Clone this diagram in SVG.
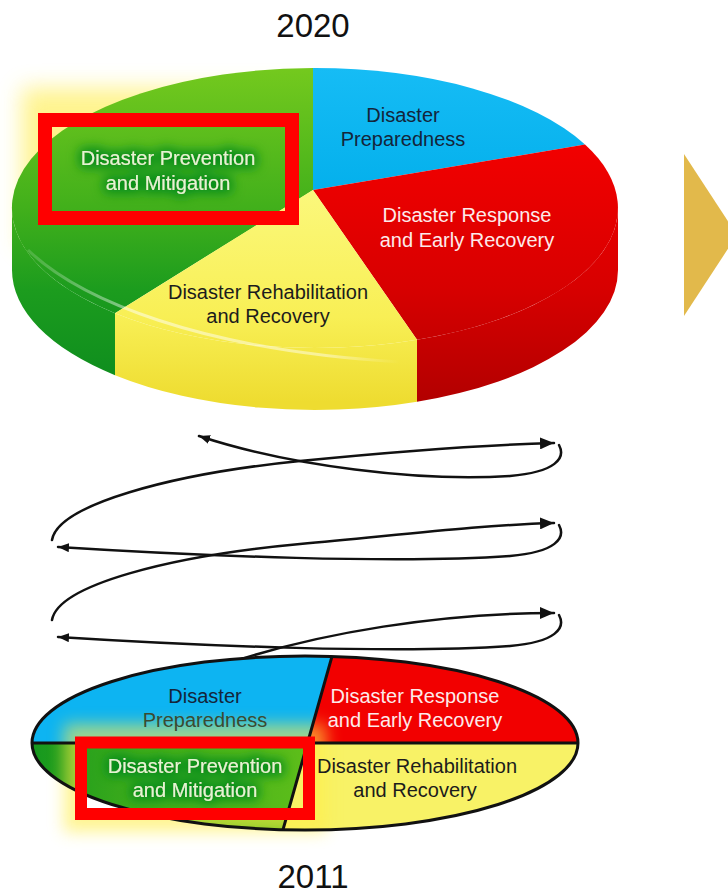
<svg xmlns="http://www.w3.org/2000/svg" width="728" height="894" viewBox="0 0 728 894">
  <style>
    text { font-family: "Liberation Sans", Arial, sans-serif; font-size: 20px; text-anchor: middle; }
    .year { font-size: 33px; fill: #111; }
    .dark { fill: #14253a; }
    .ink { fill: #1c1c1c; }
    .light { fill: #fdeaea; }
    .pale { fill: #e4f5d2; }
    .olive { fill: #3b4a30; }
    .spiral { fill: none; stroke: #111; stroke-width: 2.5; stroke-linecap: round; }
    .focus { fill: none; stroke: #ff0000; }
    .rim { fill: none; stroke: #111; stroke-width: 3; }
  </style>
  <defs>
    <!-- 3D pie fills -->
    <linearGradient id="gGreen" gradientUnits="userSpaceOnUse" x1="0" y1="68" x2="0" y2="376">
      <stop offset="0" stop-color="#74c91e"/>
      <stop offset="0.45" stop-color="#42b01b"/>
      <stop offset="0.72" stop-color="#1c9c1e"/>
      <stop offset="1" stop-color="#0f8e1e"/>
    </linearGradient>
    <linearGradient id="gBlue" gradientUnits="userSpaceOnUse" x1="0" y1="68" x2="0" y2="190">
      <stop offset="0" stop-color="#16bcf5"/>
      <stop offset="1" stop-color="#04b0ec"/>
    </linearGradient>
    <linearGradient id="gRed" gradientUnits="userSpaceOnUse" x1="0" y1="145" x2="0" y2="402">
      <stop offset="0" stop-color="#f20000"/>
      <stop offset="0.55" stop-color="#d80000"/>
      <stop offset="1" stop-color="#b20000"/>
    </linearGradient>
    <linearGradient id="gYellow" gradientUnits="userSpaceOnUse" x1="0" y1="190" x2="0" y2="402">
      <stop offset="0" stop-color="#fbf87c"/>
      <stop offset="0.6" stop-color="#f8ef55"/>
      <stop offset="1" stop-color="#eedc30"/>
    </linearGradient>
    <linearGradient id="gGreenFlat" gradientUnits="userSpaceOnUse" x1="32" y1="0" x2="300" y2="0">
      <stop offset="0" stop-color="#15981e"/>
      <stop offset="0.35" stop-color="#3aaa1b"/>
      <stop offset="1" stop-color="#5cbd1a"/>
    </linearGradient>
    <linearGradient id="gRimLight" gradientUnits="userSpaceOnUse" x1="28" y1="0" x2="400" y2="0">
      <stop offset="0" stop-color="#ffffff" stop-opacity="0.15"/>
      <stop offset="0.3" stop-color="#ffffff" stop-opacity="0.5"/>
      <stop offset="0.8" stop-color="#ffffff" stop-opacity="0.45"/>
      <stop offset="1" stop-color="#ffffff" stop-opacity="0"/>
    </linearGradient>

    <filter id="haze" x="-30%" y="-40%" width="160%" height="180%">
      <feGaussianBlur stdDeviation="11"/>
    </filter>
    <filter id="haze2011" x="-30%" y="-40%" width="160%" height="180%">
      <feGaussianBlur stdDeviation="8"/>
    </filter>
    <!-- dark green halo behind the highlighted label -->
    <filter id="labelGlow" x="-25%" y="-80%" width="150%" height="260%">
      <feMorphology in="SourceAlpha" operator="dilate" radius="3" result="thick"/>
      <feGaussianBlur in="thick" stdDeviation="6" result="soft"/>
      <feFlood flood-color="#078a1c" flood-opacity="0.95"/>
      <feComposite in2="soft" operator="in" result="halo"/>
      <feMerge>
        <feMergeNode in="halo"/>
        <feMergeNode in="SourceGraphic"/>
      </feMerge>
    </filter>

    <mask id="boxHole" maskUnits="userSpaceOnUse" x="0" y="0" width="728" height="894">
      <rect x="0" y="0" width="728" height="894" fill="#fff"/>
      <rect x="87" y="748" width="216" height="60" fill="#000"/>
    </mask>

    <marker id="headBig" viewBox="0 0 14 12" markerUnits="userSpaceOnUse" markerWidth="14" markerHeight="12" refX="14" refY="6" orient="auto">
      <path d="M0,0 L14,6 L0,12 Z" fill="#111"/>
    </marker>
    <marker id="headSmall" viewBox="0 0 11 9" markerUnits="userSpaceOnUse" markerWidth="11" markerHeight="9" refX="11" refY="4.5" orient="auto">
      <path d="M0,0 L11,4.5 L0,9 Z" fill="#111"/>
    </marker>
  </defs>

  <rect x="0" y="0" width="728" height="894" fill="#ffffff"/>

  <!-- year captions -->
  <g id="label-2020"><text class="year" x="313" y="37">2020</text></g>
  <g id="label-2011"><text class="year" x="313" y="888">2011</text></g>

  <!-- next-step chevron -->
  <g id="chevron">
    <polygon points="684,154 737,235 684,316" fill="#e2b94b"/>
  </g>

  <!-- 2020 pie (3D) -->
  <g id="pie-2020">
    <rect x="22" y="88" width="290" height="160" fill="#fff27a" opacity="0.85" filter="url(#haze)"/>

    <g id="slice-2020-prevention">
      <path d="M12,208 L12,270 A303,140 0 0 0 115,375.2 L115,313.2 A303,140 0 0 1 12,208 Z" fill="url(#gGreen)"/>
      <path d="M313,190 L313,68 A303,140 0 0 0 115,313.2 Z" fill="url(#gGreen)"/>
    </g>
    <g id="slice-2020-preparedness">
      <path d="M313,190 L313,68 A303,140 0 0 1 585,144.5 Z" fill="url(#gBlue)"/>
      <text class="dark" x="403" y="122">Disaster</text>
      <text class="dark" x="403" y="146">Preparedness</text>
    </g>
    <g id="slice-2020-response">
      <path d="M417,339.8 L417,401.8 A303,140 0 0 0 618,270 L618,208 A303,140 0 0 1 417,339.8 Z" fill="url(#gRed)"/>
      <path d="M313,190 L585,144.5 A303,140 0 0 1 417,339.8 Z" fill="url(#gRed)"/>
      <text class="light" x="467" y="222">Disaster Response</text>
      <text class="light" x="467" y="247">and Early Recovery</text>
    </g>
    <g id="slice-2020-rehabilitation">
      <path d="M115,313.2 L115,375.2 A303,140 0 0 0 417,401.8 L417,339.8 A303,140 0 0 1 115,313.2 Z" fill="url(#gYellow)"/>
      <path d="M313,190 L417,339.8 A303,140 0 0 1 115,313.2 Z" fill="url(#gYellow)"/>
      <text class="ink" x="268" y="299">Disaster Rehabilitation</text>
      <text class="ink" x="268" y="323">and Recovery</text>
    </g>
    <!-- light rim on the pie's edge -->
    <path d="M28,250 C 80,300 200,350 400,362" fill="none" stroke="url(#gRimLight)" stroke-width="3"/>

    <g id="focus-2020">
      <g filter="url(#labelGlow)">
        <text class="pale" x="168" y="165">Disaster Prevention</text>
        <text class="pale" x="168" y="190">and Mitigation</text>
      </g>
      <rect class="focus" x="45" y="120" width="247" height="98" stroke-width="14"/>
    </g>
  </g>

  <!-- spiral of arrows between the two charts -->
  <g id="connectors">
    <path class="spiral" d="M559,445 C566,458 556,472 510,476 C420,482 290,466 199,436" marker-end="url(#headSmall)"/>
    <path class="spiral" d="M52,540 C58,505 170,474 300,461 C400,451 480,445 554,443" marker-end="url(#headBig)"/>
    <path class="spiral" d="M559,525 C566,538 556,552 510,556 C400,564 200,556 58,547" marker-end="url(#headSmall)"/>
    <path class="spiral" d="M52,620 C58,585 170,556 300,544 C400,535 480,525 554,523" marker-end="url(#headBig)"/>
    <path class="spiral" d="M559,615 C566,628 556,642 510,646 C400,654 200,646 58,637" marker-end="url(#headSmall)"/>
    <path class="spiral" d="M232,662 C320,633 440,613 554,613" marker-end="url(#headBig)"/>
  </g>

  <!-- 2011 chart (flat ellipse in quarters) -->
  <g id="pie-2011">
    <g id="slice-2011-preparedness">
      <path d="M307.5,743 L332,656.4 A273,87 0 0 0 32,743 Z" fill="#0db4f2"/>
    </g>
    <g id="slice-2011-response">
      <path d="M307.5,743 L578,743 A273,87 0 0 0 332,656.4 Z" fill="#f20000"/>
    </g>
    <g id="slice-2011-prevention">
      <path d="M307.5,743 L32,743 A273,87 0 0 0 283,829.7 Z" fill="url(#gGreenFlat)"/>
    </g>
    <g id="slice-2011-rehabilitation">
      <path d="M307.5,743 L283,829.7 A273,87 0 0 0 578,743 Z" fill="#f8f266"/>
    </g>

    <!-- yellow glow round the highlighted quarter -->
    <g mask="url(#boxHole)">
      <rect x="64" y="724" width="262" height="108" fill="#ffee4a" opacity="0.6" filter="url(#haze2011)"/>
    </g>

    <ellipse class="rim" cx="305" cy="743" rx="273" ry="87"/>
    <path class="rim" d="M32,743 H578 M332,656.4 L283,829.7"/>

    <text class="dark" x="205" y="703">Disaster</text>
    <text class="olive" x="205" y="727">Preparedness</text>
    <text class="light" x="415" y="703">Disaster Response</text>
    <text class="light" x="415" y="727">and Early Recovery</text>
    <text class="ink" x="417" y="773">Disaster Rehabilitation</text>
    <text class="ink" x="415" y="797">and Recovery</text>

    <g id="focus-2011">
      <g filter="url(#labelGlow)">
        <text class="pale" x="195" y="773">Disaster Prevention</text>
        <text class="pale" x="195" y="797">and Mitigation</text>
      </g>
      <rect class="focus" x="81" y="742.5" width="228" height="71.5" stroke-width="12"/>
    </g>
  </g>
</svg>
